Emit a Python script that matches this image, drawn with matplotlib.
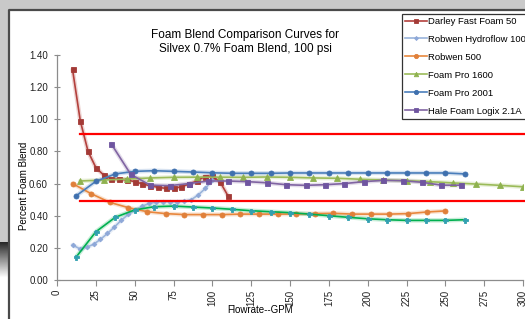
import matplotlib
matplotlib.use("Agg")
import matplotlib.pyplot as plt
import numpy as np

plt.rcParams['font.family'] = ['Liberation Sans', 'DejaVu Sans']

# --- data ---
darley_x = [10, 15, 20, 25, 30, 35, 40, 45, 50, 55, 60, 65, 70, 75, 80, 85, 90, 95, 100, 105, 110]
darley_y = [1.31, 0.99, 0.80, 0.70, 0.653, 0.628, 0.628, 0.622, 0.612, 0.598, 0.586, 0.577, 0.570, 0.570,
            0.580, 0.597, 0.616, 0.643, 0.647, 0.610, 0.525]

hydro_x = [10, 14.5, 19, 23.5, 28, 32.5, 37, 41.5, 46, 50.5, 55, 59.5, 64, 68.5, 73, 77.5, 82, 86.5, 91, 95.5, 100]
hydro_y = [0.218, 0.195, 0.204, 0.222, 0.253, 0.29, 0.33, 0.373, 0.409, 0.436, 0.46, 0.477, 0.485, 0.487,
           0.487, 0.487, 0.49, 0.50, 0.53, 0.57, 0.62]

r500_x = [10, 22, 34, 46, 58, 70, 82, 94, 106, 118, 130, 142, 154, 166, 178, 190, 202, 214, 226, 238, 250]
r500_y = [0.60, 0.537, 0.483, 0.45, 0.425, 0.413, 0.407, 0.407, 0.407, 0.41, 0.41, 0.41, 0.41, 0.413,
          0.415, 0.41, 0.41, 0.41, 0.413, 0.423, 0.43]

fp1600_x = [15, 30, 45, 60, 75, 90, 105, 120, 135, 150, 165, 180, 195, 210, 225, 240, 255, 270, 285, 300]
fp1600_y = [0.616, 0.622, 0.628, 0.635, 0.639, 0.64, 0.64, 0.639, 0.641, 0.639, 0.635, 0.633, 0.627,
            0.622, 0.618, 0.612, 0.604, 0.597, 0.589, 0.58]

fp2001_x = [12.5, 25, 37.5, 50, 62.5, 75, 87.5, 100, 112.5, 125, 137.5, 150, 162.5, 175, 187.5, 200,
            212.5, 225, 237.5, 250, 262.5]
fp2001_y = [0.525, 0.614, 0.66, 0.676, 0.68, 0.676, 0.672, 0.667, 0.664, 0.664, 0.664, 0.666, 0.666,
            0.666, 0.666, 0.666, 0.666, 0.666, 0.666, 0.666, 0.66]

hale_x = [35, 47.5, 60, 72.5, 85, 97.5, 110, 122.5, 135, 147.5, 160, 172.5, 185, 197.5, 210, 222.5,
          235, 247.5, 260]
hale_y = [0.846, 0.657, 0.59, 0.587, 0.60, 0.616, 0.616, 0.612, 0.605, 0.593, 0.589, 0.593, 0.60,
          0.612, 0.62, 0.618, 0.608, 0.59, 0.59]

teal_x = [12.5, 25, 37.5, 50, 62.5, 75, 87.5, 100, 112.5, 125, 137.5, 150, 162.5, 175, 187.5, 200,
          212.5, 225, 237.5, 250, 262.5]
teal_y = [0.145, 0.30, 0.39, 0.436, 0.456, 0.46, 0.454, 0.448, 0.44, 0.431, 0.425, 0.419, 0.41, 0.40,
          0.39, 0.381, 0.375, 0.371, 0.371, 0.371, 0.375]

limit_x = [15, 302]
upper_limit = 0.91
lower_limit = 0.49

x_ticks = list(range(0, 301, 25))
y_ticks = [0.0, 0.2, 0.4, 0.6, 0.8, 1.0, 1.2, 1.4]

W, H = 525, 319
fig = plt.figure(figsize=(W / 100, H / 100), dpi=100)
fig.patch.set_facecolor('#c9c9c9')

# background frame drawn in pixel coordinates
bg = fig.add_axes([0, 0, 1, 1], zorder=-5)
bg.add_patch(plt.Rectangle((8, 9), W, H, facecolor='white', edgecolor='none'))
bg.plot([8.5, 8.5, W], [H, 9.5, 9.5], color='#4a4a4a', lw=1.6)
shade = np.linspace(0.16, 1.0, 40).reshape(-1, 1)
bg.imshow(shade, cmap='gray', vmin=0, vmax=1, extent=(0, 7.5, 278, 242), aspect='auto')
bg.add_patch(plt.Rectangle((0, 278), 7.5, 41, facecolor='white', edgecolor='none'))
bg.set_xlim(0, W)
bg.set_ylim(H, 0)
bg.axis('off')

ax = fig.add_axes([57 / W, 1 - 280 / H, 466 / W, 225 / H])
ax.set_facecolor('none')


def series(x, y, line, mark, marker, ms, label):
    # soft glow under the line, then the line with its markers
    ax.plot(x, y, color=line, lw=3.2, alpha=0.22, zorder=2, solid_capstyle='round')
    ax.plot(x, y, color=line, lw=1.2, marker=marker, ms=ms, mfc=mark, mec=mark, mew=0.6,
            label=label, zorder=3)


series(darley_x, darley_y, '#b3403c', '#a33a36', 's', 3.6, 'Darley Fast Foam 50')
series(hydro_x, hydro_y, '#9ab4db', '#8ea8d8', 'D', 2.4, 'Robwen Hydroflow 100')
series(r500_x, r500_y, '#e8873d', '#e0803a', 'o', 3.6, 'Robwen 500')
series(fp1600_x, fp1600_y, '#9bbb59', '#8fb24f', '^', 3.8, 'Foam Pro 1600')
series(fp2001_x, fp2001_y, '#4a7ebb', '#3f70ae', 'o', 3.6, 'Foam Pro 2001')
series(hale_x, hale_y, '#8064a2', '#6f55a0', 's', 3.6, 'Hale Foam Logix 2.1A')
series(teal_x, teal_y, '#00b050', '#31a0b0', 'P', 3.6, '_nolegend_')

ax.plot(limit_x, [upper_limit, upper_limit], color='#ff0000', lw=1.6, zorder=4, clip_on=False)
ax.plot(limit_x, [lower_limit, lower_limit], color='#ff0000', lw=1.6, zorder=4, clip_on=False)

ax.set_xlim(0, 300)
ax.set_ylim(0, 1.4)
ax.set_xticks(x_ticks)
ax.set_xticklabels([str(t) for t in x_ticks], rotation=90, fontsize=7, color='#222222')
ax.set_yticks(y_ticks)
ax.set_yticklabels([f'{t:.2f}' for t in y_ticks], fontsize=7, color='#222222')
for s in ['top', 'right']:
    ax.spines[s].set_visible(False)
for s in ['left', 'bottom']:
    ax.spines[s].set_color('#8c8c8c')
    ax.spines[s].set_linewidth(0.9)
ax.tick_params(axis='y', direction='inout', length=5, color='#8c8c8c', pad=4)
ax.tick_params(axis='x', direction='out', length=4, color='#8c8c8c', pad=3)

fig.text(245 / W, 1 - 42 / H, 'Foam Blend Comparison Curves for\nSilvex 0.7% Foam Blend, 100 psi',
         ha='center', va='center', fontsize=8.5, linespacing=1.25)
fig.text(24 / W, 1 - 186 / H, 'Percent Foam Blend', rotation=90, ha='center', va='center', fontsize=7)
fig.text(260 / W, 1 - 310 / H, 'Flowrate--GPM', ha='center', va='center', fontsize=7)

leg = ax.legend(loc='upper left', bbox_to_anchor=(402 / W, 1 - 14 / H), bbox_transform=fig.transFigure,
                fontsize=6.8, frameon=True, fancybox=False, handlelength=2.3, handletextpad=0.2,
                labelspacing=0.95, borderpad=0.3, borderaxespad=0, markerscale=0.85)
leg.get_frame().set_edgecolor('black')
leg.get_frame().set_linewidth(0.9)

fig.savefig('out.png', dpi=100, facecolor=fig.get_facecolor())
